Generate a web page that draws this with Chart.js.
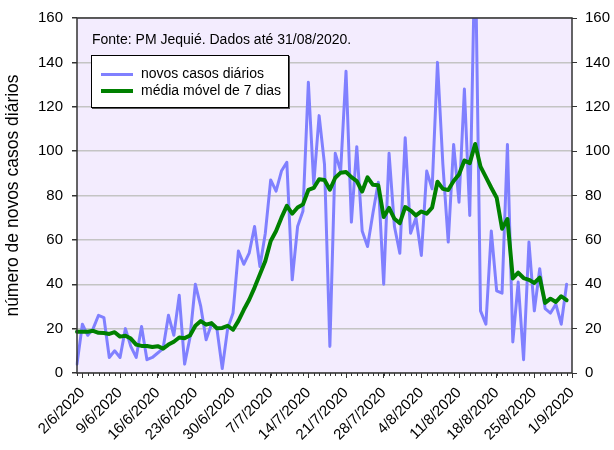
<!DOCTYPE html>
<html>
<head>
<meta charset="utf-8">
<script src="https://cdn.jsdelivr.net/npm/chart.js@4/dist/chart.umd.min.js"></script>
<style>
  body { margin: 0; background: #fff; }
  #wrap { position: relative; width: 614px; height: 450px; font-family: 'Liberation Sans', Arial, sans-serif; }
  #fonte { position: absolute; left: 92px; top: 31px; font-size: 14px; color: #000; white-space: nowrap; }
  #legenda { position: absolute; left: 91px; top: 55px; width: 196px; height: 51px; background: #fff;
    border: 1px solid #000; box-shadow: 1px 1px 0 #555; font-size: 14px; color: #000; }
  .item { position: absolute; left: 9px; height: 16px; line-height: 16px; white-space: nowrap; }
  .item span { display: inline-block; width: 32px; vertical-align: middle; margin-right: 8px; }
</style>
</head>
<body>
<div id="wrap">
  <canvas id="grafico" width="614" height="450"></canvas>
  <div id="fonte">Fonte: PM Jequié. Dados até 31/08/2020.</div>
  <div id="legenda">
    <div class="item" style="top:9px"><span style="border-top:3px solid #8080ff"></span>novos casos diários</div>
    <div class="item" style="top:26px"><span style="border-top:4px solid #008000"></span>média móvel de 7 dias</div>
  </div>
</div>
<script>
// dias de 1/6/2020 ate 1/9/2020
const categorias = [];
for (let d = new Date(2020, 5, 1); d <= new Date(2020, 8, 1); d.setDate(d.getDate() + 1)) {
  categorias.push(d.getDate() + '/' + (d.getMonth() + 1) + '/' + d.getFullYear());
}
const rotulosX = ['2/6/2020', '9/6/2020', '16/6/2020', '23/6/2020', '30/6/2020', '7/7/2020', '14/7/2020',
  '21/7/2020', '28/7/2020', '4/8/2020', '11/8/2020', '18/8/2020', '25/8/2020', '1/9/2020'];

const novosCasos = [4, 22, 17, 20, 26, 25, 7, 10, 7, 20,
  12, 7, 21, 6, 7, 9, 11, 26, 17, 35,
  4, 16, 40, 30, 15, 22, 20, 2, 20, 27,
  55, 49, 54, 66, 48, 63, 87, 82, 91, 95,
  42, 66, 73, 131, 85, 116, 94, 12, 99, 91,
  136, 68, 102, 64, 57, 72, 86, 40, 99, 66,
  54, 106, 63, 70, 53, 91, 83, 140, 94, 59,
  103, 77, 128, 71, 196, 28, 22, 64, 37, 36,
  103, 14, 41, 6, 59, 28, 47, 29, 27, 31,
  22, 40];

const mediaMovel = [18.6, 18.6, 18.6, 19.0, 18.1, 18.0, 17.6, 18.4, 16.4, 16.8,
  15.5, 12.8, 12.2, 12.2, 11.7, 12.1, 11.0, 12.8, 14.1, 16.0,
  15.7, 16.9, 21.3, 23.4, 21.8, 22.5, 20.2, 20.3, 21.3, 19.5,
  23.5, 28.5, 33.0, 38.5, 44.5, 50.5, 59.5, 64.0, 70.0, 75.3,
  71.8, 74.6, 76.0, 82.5, 83.4, 87.3, 87.0, 82.6, 88.0, 90.3,
  90.6, 88.3, 86.5, 81.8, 88.2, 84.8, 84.6, 70.3, 74.4, 69.5,
  67.5, 74.8, 73.2, 71.0, 72.8, 71.8, 74.5, 86.2, 83.0, 82.5,
  86.5, 89.5, 95.8, 94.6, 103.2, 93.0, 88.3, 83.5, 79.0, 65.0,
  69.4, 42.6, 45.2, 42.8, 42.0, 40.6, 43.0, 31.6, 33.5, 32.0,
  34.6, 32.8];

const fonte = { family: "'Liberation Sans', Arial, sans-serif", size: 15 };

// fundo lilas, moldura e tracinhos diarios
const moldura = {
  id: 'moldura',
  beforeDraw(chart) {
    const a = chart.chartArea, c = chart.ctx;
    c.save();
    c.fillStyle = '#f3ecfe';
    c.fillRect(a.left, a.top, a.right - a.left, a.bottom - a.top);
    c.restore();
  },
  afterDraw(chart) {
    const a = chart.chartArea, c = chart.ctx, x = chart.scales.x;
    c.save();
    c.strokeStyle = '#333';
    c.lineWidth = 1.5;
    c.strokeRect(a.left, a.top, a.right - a.left, a.bottom - a.top);
    c.lineWidth = 1;
    c.beginPath();
    for (let i = 0; i < categorias.length; i++) {
      const px = Math.round(x.getPixelForValue(i)) + 0.5;
      c.moveTo(px, a.bottom);
      c.lineTo(px, a.bottom + 3);
    }
    c.stroke();
    c.restore();
  }
};

new Chart(document.getElementById('grafico'), {
  type: 'line',
  data: {
    labels: categorias,
    datasets: [
      { label: 'novos casos diários', data: novosCasos, borderColor: '#8080ff', borderWidth: 3,
        borderJoinStyle: 'round', borderCapStyle: 'round', pointRadius: 0, tension: 0, order: 1 },
      { label: 'média móvel de 7 dias', data: mediaMovel, borderColor: '#008000', borderWidth: 4,
        borderJoinStyle: 'round', borderCapStyle: 'round', pointRadius: 0, tension: 0, order: 0 }
    ]
  },
  options: {
    responsive: false,
    animation: false,
    events: [],
    layout: { padding: { top: 17, left: 0, right: 0, bottom: 0 }, autoPadding: false },
    plugins: { legend: { display: false }, tooltip: { enabled: false } },
    scales: {
      x: {
        type: 'category',
        offset: false,
        border: { display: false },
        grid: {
          drawOnChartArea: false, drawTicks: true, tickLength: 5,
          tickColor: (ctx) => rotulosX.includes(categorias[ctx.index]) ? '#333' : 'rgba(0,0,0,0)'
        },
        ticks: {
          autoSkip: false, minRotation: 45, maxRotation: 45, padding: 6, color: '#000', font: fonte,
          callback: (v, i) => rotulosX.includes(categorias[i]) ? categorias[i] : ''
        },
        afterFit: (s) => { s.height = 77; }
      },
      y: {
        position: 'left', min: 0, max: 160,
        border: { display: false },
        grid: { color: '#c4c4c4', lineWidth: 1.5, tickColor: '#333', tickLength: 5 },
        ticks: { stepSize: 20, padding: 9, color: '#000', font: fonte },
        title: { display: true, text: 'número de novos casos diários', color: '#000',
          font: { family: fonte.family, size: 17.5 }, padding: { top: 3, bottom: 0 } },
        afterFit: (s) => { s.width = 77; }
      },
      y2: {
        position: 'right', min: 0, max: 160,
        border: { display: false },
        grid: { drawOnChartArea: false, tickColor: '#333', tickLength: 5 },
        ticks: { stepSize: 20, padding: 8, color: '#000', font: fonte },
        afterFit: (s) => { s.width = 42; }
      }
    }
  },
  plugins: [moldura]
});
</script>
</body>
</html>
